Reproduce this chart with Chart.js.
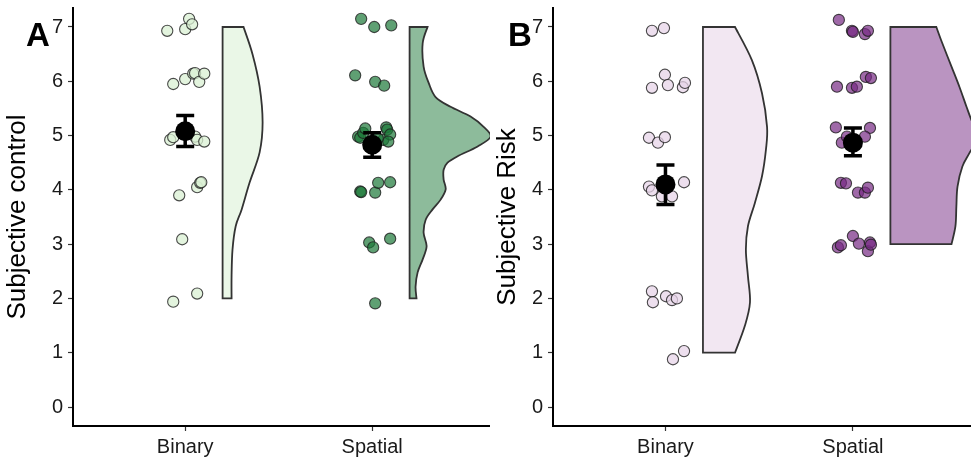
<!DOCTYPE html>
<html>
<head>
<meta charset="utf-8">
<script src="https://cdn.jsdelivr.net/npm/chart.js@4.4.1/dist/chart.umd.min.js"></script>
<style>
  html, body { margin: 0; padding: 0; background: #fff; }
  #wrap { position: relative; width: 971px; height: 459px; overflow: hidden; }
  canvas { position: absolute; top: 0; }
  .tag { position: absolute; font: bold 33px "Liberation Sans", Arial, sans-serif; line-height: 33px; color: #000; }
</style>
</head>
<body>
<div id="wrap">
  <canvas id="panelA" width="490" height="459" style="left:0"></canvas>
  <canvas id="panelB" width="481" height="459" style="left:490px"></canvas>
  <div class="tag" style="left:26px;top:18px">A</div>
  <div class="tag" style="left:508px;top:18px">B</div>
</div>
<script>
// ---- data ----
const categories = ['Binary', 'Spatial'];
const yTicks = [0, 1, 2, 3, 4, 5, 6, 7];

// Subjective control: individual ratings as [jittered x, rating]
const controlBinary = [
  [0.904, 6.93], [1.000, 6.96], [1.021, 7.15], [1.037, 7.05],
  [0.936, 5.95], [1.000, 6.04], [1.043, 6.14], [1.053, 6.15], [1.075, 5.99], [1.102, 6.14],
  [0.920, 4.92], [0.936, 4.97], [1.053, 4.98], [1.064, 4.92], [1.102, 4.89],
  [0.968, 3.90], [1.064, 4.05], [1.080, 4.13], [1.086, 4.14],
  [0.984, 3.09],
  [0.936, 1.94], [1.064, 2.09]
];
const controlSpatial = [
  [1.941, 7.15], [2.011, 7.00], [2.102, 7.03],
  [1.909, 6.11], [2.016, 5.99], [2.064, 5.92],
  [1.925, 4.98], [1.936, 4.96], [1.952, 5.05], [1.963, 5.13], [2.059, 4.92], [2.075, 5.15],
  [2.080, 5.11], [2.096, 5.02], [2.086, 4.89], [2.030, 4.95],
  [1.936, 3.97], [1.941, 3.96], [2.016, 3.95], [2.032, 4.13], [2.096, 4.14],
  [1.984, 3.03], [2.005, 2.94], [2.096, 3.10],
  [2.016, 1.91]
];
const controlMean = [5.08, 4.83];
const controlLower = [4.80, 4.60];
const controlUpper = [5.37, 5.05];

// half-violin outlines: rating levels and density widths
const controlBinaryViolinY = [2.0, 2.41, 2.9, 3.33, 3.64, 4.13, 4.69, 5.24, 5.9, 6.5, 7.0];
const controlBinaryViolinW = [0.048, 0.048, 0.053, 0.070, 0.102, 0.144, 0.198, 0.214, 0.198, 0.160, 0.112];
const controlSpatialViolinY = [2.0, 2.22, 2.48, 2.72, 2.96, 3.21, 3.45, 3.64, 3.82, 4.01, 4.19, 4.37,
  4.50, 4.62, 4.80, 4.98, 5.16, 5.35, 5.53, 5.71, 5.97, 6.27, 6.7, 7.0];
const controlSpatialViolinW = [0.037, 0.032, 0.043, 0.070, 0.091, 0.075, 0.086, 0.123, 0.166, 0.193, 0.182, 0.182,
  0.203, 0.257, 0.364, 0.433, 0.396, 0.326, 0.219, 0.139, 0.102, 0.075, 0.070, 0.096];

// Subjective risk
const riskBinary = [
  [0.928, 6.93], [0.992, 6.98],
  [0.928, 5.88], [0.997, 6.12], [1.013, 5.93], [1.093, 5.89], [1.104, 5.97],
  [0.912, 4.96], [0.960, 4.87], [0.997, 4.97],
  [0.912, 4.06], [0.928, 3.99], [0.981, 3.88], [1.035, 3.88], [1.099, 4.14],
  [0.928, 2.13], [0.933, 1.93], [1.003, 2.04], [1.035, 1.97], [1.061, 2.00],
  [1.040, 0.88], [1.099, 1.03]
];
const riskSpatial = [
  [1.925, 7.13], [1.995, 6.93], [2.000, 6.91], [2.064, 6.87], [2.080, 6.93],
  [1.915, 5.90], [1.995, 5.88], [2.021, 5.90], [2.069, 6.08], [2.096, 6.06],
  [1.909, 5.15], [2.091, 5.14], [1.941, 4.87], [1.968, 4.98], [2.064, 4.98],
  [1.936, 4.13], [1.963, 4.12], [2.027, 3.95], [2.064, 3.95], [2.080, 4.04],
  [1.920, 2.94], [1.936, 2.98], [2.000, 3.15], [2.032, 3.01], [2.080, 2.87], [2.091, 3.03], [2.096, 2.99]
];
const riskMean = [4.10, 4.87];
const riskLower = [3.73, 4.63];
const riskUpper = [4.46, 5.14];

const riskBinaryViolinY = [1.0, 1.5, 1.93, 2.41, 2.9, 3.33, 3.76, 4.25, 4.74, 5.16, 5.78, 6.39, 7.0];
const riskBinaryViolinW = [0.171, 0.224, 0.251, 0.240, 0.229, 0.240, 0.277, 0.315, 0.336, 0.342, 0.315, 0.261, 0.171];
const riskSpatialViolinY = [3.0, 3.33, 3.7, 4.06, 4.43, 4.68, 5.0, 5.29, 5.53, 5.9, 6.27, 6.7, 7.0];
const riskSpatialViolinW = [0.326, 0.347, 0.352, 0.358, 0.384, 0.422, 0.470, 0.432, 0.406, 0.368, 0.326, 0.277, 0.245];

// ---- drawing ----
const FONT = '"Liberation Sans", Arial, sans-serif';

// half violins behind the points, error bars under the mean markers
const raincloudPlugin = {
  id: 'raincloud',
  beforeDatasetsDraw(chart, args, opts) {
    const { ctx, chartArea: a, scales: { x, y } } = chart;
    ctx.save();
    ctx.beginPath();
    ctx.rect(a.left, a.top, a.right - a.left, a.bottom - a.top);
    ctx.clip();
    opts.violins.forEach((v, i) => {
      const base = i + 1 + opts.nudge;
      const bx = x.getPixelForValue(base);
      const p = v.y.map((yy, k) => [x.getPixelForValue(base + v.w[k]), y.getPixelForValue(yy)]);
      const n = p.length;
      ctx.beginPath();
      ctx.moveTo(bx, p[0][1]);
      ctx.lineTo(p[0][0], p[0][1]);
      for (let k = 0; k < n - 1; k++) {
        const p0 = p[Math.max(0, k - 1)], p1 = p[k], p2 = p[k + 1], p3 = p[Math.min(n - 1, k + 2)];
        ctx.bezierCurveTo(
          p1[0] + (p2[0] - p0[0]) / 6, p1[1] + (p2[1] - p0[1]) / 6,
          p2[0] - (p3[0] - p1[0]) / 6, p2[1] - (p3[1] - p1[1]) / 6,
          p2[0], p2[1]);
      }
      ctx.lineTo(bx, p[n - 1][1]);
      ctx.closePath();
      ctx.fillStyle = opts.fills[i];
      ctx.fill();
      ctx.lineWidth = 1.8;
      ctx.lineJoin = 'miter';
      ctx.strokeStyle = '#333';
      ctx.stroke();
    });
    ctx.restore();
  },
  beforeDatasetDraw(chart, args, opts) {
    if (args.index !== 0) return;
    const { ctx, scales: { x, y } } = chart;
    ctx.save();
    ctx.strokeStyle = '#000';
    ctx.lineWidth = 3.5;
    ctx.lineCap = 'butt';
    opts.lower.forEach((lo, i) => {
      const cx = x.getPixelForValue(i + 1);
      const yl = y.getPixelForValue(lo), yh = y.getPixelForValue(opts.upper[i]);
      ctx.beginPath();
      ctx.moveTo(cx, yl); ctx.lineTo(cx, yh);
      ctx.moveTo(cx - 9, yl); ctx.lineTo(cx + 9, yl);
      ctx.moveTo(cx - 9, yh); ctx.lineTo(cx + 9, yh);
      ctx.stroke();
    });
    ctx.restore();
  }
};

const toXY = arr => arr.map(([x, y]) => ({ x, y }));

function buildPanel(id, cfg) {
  return new Chart(document.getElementById(id), {
    type: 'scatter',
    data: {
      datasets: [
        { label: 'mean', data: cfg.mean.map((m, i) => ({ x: i + 1, y: m })),
          pointRadius: 10, pointHoverRadius: 10, backgroundColor: '#000', borderColor: '#000', borderWidth: 0 },
        { label: categories[0], data: toXY(cfg.points[0]), pointRadius: 5.6, pointHoverRadius: 5.6,
          backgroundColor: cfg.pointFills[0], borderColor: 'rgba(30,30,30,0.8)', borderWidth: 1.1 },
        { label: categories[1], data: toXY(cfg.points[1]), pointRadius: 5.6, pointHoverRadius: 5.6,
          backgroundColor: cfg.pointFills[1], borderColor: 'rgba(30,30,30,0.8)', borderWidth: 1.1 }
      ]
    },
    options: {
      responsive: false,
      animation: false,
      devicePixelRatio: 1,
      events: [],
      layout: { autoPadding: false, padding: { top: 8, right: 0, left: 0, bottom: 0 } },
      plugins: {
        legend: { display: false },
        tooltip: { enabled: false },
        raincloud: {
          nudge: 0.2,
          violins: cfg.violins,
          fills: cfg.violinFills,
          lower: cfg.lower,
          upper: cfg.upper
        }
      },
      scales: {
        x: {
          type: 'linear', min: 0.4, max: 2.63,
          afterBuildTicks: s => { s.ticks = categories.map((c, i) => ({ value: i + 1 })); },
          afterFit: s => { s.height = 33; s.paddingLeft = 0; s.paddingRight = 0; },
          ticks: { callback: v => categories[v - 1], color: '#1a1a1a', font: { family: FONT, size: 20 }, padding: 4, maxRotation: 0 },
          grid: { drawOnChartArea: false, drawTicks: true, tickLength: 5, color: '#333', tickWidth: 1.2 },
          border: { display: true, color: '#000', width: 2 }
        },
        y: {
          type: 'linear', min: -0.35, max: 7.35,
          afterBuildTicks: s => { s.ticks = yTicks.map(v => ({ value: v })); },
          afterFit: s => { s.width = cfg.yWidth; s.paddingTop = 0; s.paddingBottom = 0; },
          ticks: { color: '#1a1a1a', font: { family: FONT, size: 20 }, padding: 5 },
          grid: { drawOnChartArea: false, drawTicks: true, tickLength: 5, color: '#333', tickWidth: 1.2 },
          border: { display: true, color: '#000', width: 2 },
          title: { display: true, text: cfg.title, color: '#000', font: { family: FONT, size: 26 }, padding: { top: 2, bottom: 0 } }
        }
      }
    },
    plugins: [raincloudPlugin]
  });
}

buildPanel('panelA', {
  title: 'Subjective control',
  yWidth: 73,
  points: [controlBinary, controlSpatial],
  pointFills: ['rgba(217,240,211,0.75)', 'rgba(27,120,55,0.7)'],
  mean: controlMean, lower: controlLower, upper: controlUpper,
  violins: [
    { y: controlBinaryViolinY, w: controlBinaryViolinW },
    { y: controlSpatialViolinY, w: controlSpatialViolinW }
  ],
  violinFills: ['rgba(217,240,211,0.55)', 'rgba(27,120,55,0.5)']
});

buildPanel('panelB', {
  title: 'Subjective Risk',
  yWidth: 63,
  points: [riskBinary, riskSpatial],
  pointFills: ['rgba(231,212,232,0.75)', 'rgba(118,42,131,0.7)'],
  mean: riskMean, lower: riskLower, upper: riskUpper,
  violins: [
    { y: riskBinaryViolinY, w: riskBinaryViolinW },
    { y: riskSpatialViolinY, w: riskSpatialViolinW }
  ],
  violinFills: ['rgba(231,212,232,0.55)', 'rgba(118,42,131,0.5)']
});
</script>
</body>
</html>
